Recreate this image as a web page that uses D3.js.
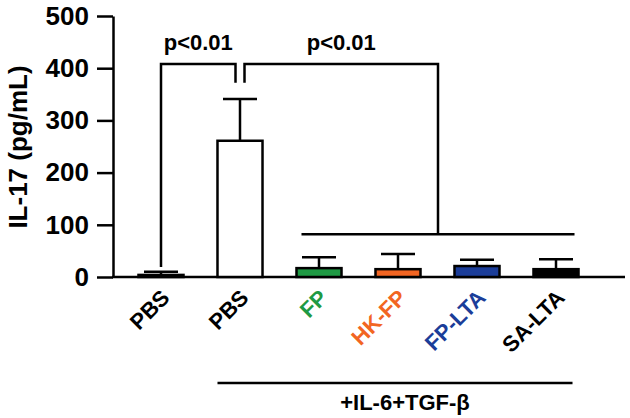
<!DOCTYPE html>
<html>
<head>
<meta charset="utf-8">
<script src="https://cdn.jsdelivr.net/npm/d3@7"></script>
<style>
  body { margin: 0; background: #fff; }
  text { font-family: "Liberation Sans", Arial, sans-serif; font-weight: bold; }
</style>
</head>
<body>
<svg id="chart" width="630" height="418"></svg>
<script>
var svg = d3.select("#chart");

// data
var groups = ["PBS", "PBS", "FP", "HK-FP", "FP-LTA", "SA-LTA"];
var means = [4, 261, 17, 15, 21, 15];
var errs = [6, 80, 21, 29, 12, 19];
var fills = ["#000000", "#ffffff", "#1f9a44", "#f26522", "#1b3d99", "#000000"];
var labelColors = ["#000", "#000", "#1f9a44", "#f26522", "#1b3d99", "#000"];
var yTicks = [0, 100, 200, 300, 400, 500];

var y = d3.scaleLinear().domain([0, 500]).range([277, 16]);
var x = d3.scaleBand().domain(d3.range(groups.length))
    .range([121.5, 595.5]).paddingInner(0.43).paddingOuter(0.215);
var bw = x.bandwidth();
var cx = function(i) { return x(i) + bw / 2; };

// y axis
var yAxis = svg.append("g")
    .attr("transform", "translate(113,0)")
    .call(d3.axisLeft(y).tickValues(yTicks).tickSize(16).tickSizeOuter(0).tickPadding(8));
yAxis.selectAll("path, line").attr("stroke", "#000").attr("stroke-width", 2.5);
yAxis.selectAll("text").attr("font-size", 26).attr("fill", "#000")
    .style("font-family", "'Liberation Sans', Arial, sans-serif").style("font-weight", "bold");

// x axis baseline
svg.append("line")
    .attr("x1", 112).attr("x2", 625)
    .attr("y1", y(0)).attr("y2", y(0))
    .attr("stroke", "#000").attr("stroke-width", 2.5);

svg.append("text")
    .attr("transform", "translate(27,147) rotate(-90)")
    .attr("text-anchor", "middle")
    .style("font-size", "26px")
    .text("IL-17 (pg/mL)");

// error bars (upper only)
var eb = svg.append("g").attr("stroke", "#000").attr("stroke-width", 2.5);
groups.forEach(function(g, i) {
  eb.append("line")
      .attr("x1", cx(i)).attr("x2", cx(i))
      .attr("y1", y(means[i])).attr("y2", y(means[i] + errs[i]));
  eb.append("line")
      .attr("x1", cx(i) - 17).attr("x2", cx(i) + 17)
      .attr("y1", y(means[i] + errs[i])).attr("y2", y(means[i] + errs[i]));
});

// bars
svg.append("g").selectAll("rect")
    .data(means)
    .enter().append("rect")
      .attr("x", function(d, i) { return x(i); })
      .attr("y", function(d) { return y(d); })
      .attr("width", bw)
      .attr("height", function(d) { return y(0) - y(d); })
      .attr("fill", function(d, i) { return fills[i]; })
      .attr("stroke", "#000")
      .attr("stroke-width", 2.5);

// category labels, slanted
var labY = 299;
svg.append("g").selectAll("text")
    .data(groups)
    .enter().append("text")
      .attr("transform", function(d, i) { return "translate(" + (cx(i) + 10) + "," + labY + ") rotate(-45)"; })
      .attr("text-anchor", "end")
      .style("font-size", "22px")
      .attr("fill", function(d, i) { return labelColors[i]; })
      .text(function(d) { return d; });

// significance brackets
var topV = 408, legV = 372;
var br = svg.append("g").attr("fill", "none").attr("stroke", "#000").attr("stroke-width", 2.5);
br.append("path")
    .attr("d", d3.line()([[cx(0), y(19)], [cx(0), y(topV)], [cx(1) - 4.5, y(topV)], [cx(1) - 4.5, y(legV)]]));
var grpL = x(2) + 5, grpR = x(5) + bw - 4, grpMid = (grpL + grpR) / 2;
br.append("path")
    .attr("d", d3.line()([[cx(1) + 4.5, y(legV)], [cx(1) + 4.5, y(topV)], [grpMid, y(topV)], [grpMid, y(82)]]));
br.append("line")
    .attr("x1", grpL).attr("x2", grpR)
    .attr("y1", y(82)).attr("y2", y(82));

svg.append("text")
    .attr("x", (cx(0) + cx(1) - 4.5) / 2).attr("y", 50)
    .attr("text-anchor", "middle").attr("font-size", 22)
    .text("p<0.01");
svg.append("text")
    .attr("x", (cx(1) + 4.5 + grpMid) / 2).attr("y", 50)
    .attr("text-anchor", "middle").attr("font-size", 22)
    .text("p<0.01");

// treatment group line
svg.append("line")
    .attr("x1", x(1)).attr("x2", x(5) + bw - 6)
    .attr("y1", 383).attr("y2", 383)
    .attr("stroke", "#000").attr("stroke-width", 2.5);
svg.append("text")
    .attr("x", 405).attr("y", 410)
    .attr("text-anchor", "middle").attr("font-size", 22)
    .text("+IL-6+TGF-β");
</script>
</body>
</html>
